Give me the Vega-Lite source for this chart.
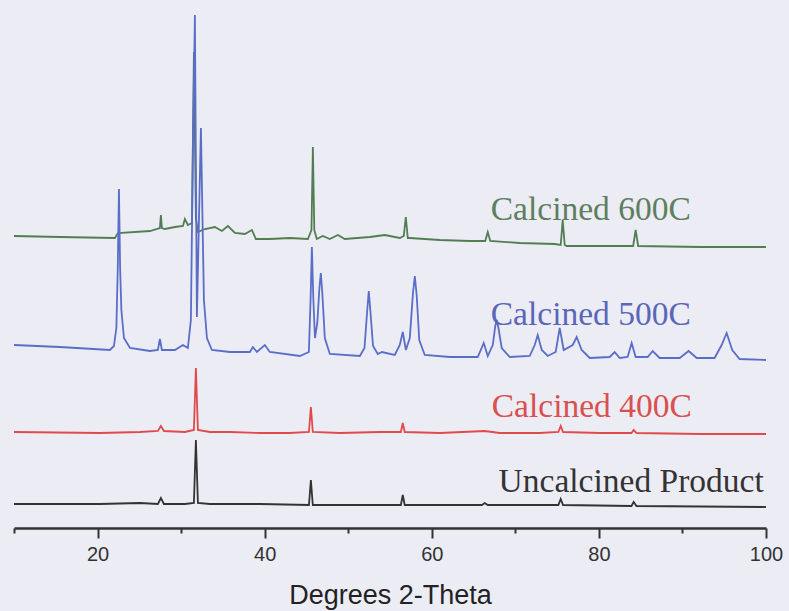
{
  "$schema": "https://vega.github.io/schema/vega-lite/v6.json",
  "width": 752,
  "height": 518,
  "padding": {"left": 10, "top": 10, "right": 10, "bottom": 5},
  "background": "#ececf5",
  "config": {"view": {"stroke": null}},
  "datasets": {
    "traces": [
      {"s": "600C", "x": 10, "y": 292}, {"s": "600C", "x": 15.5, "y": 291}, {"s": "600C", "x": 22.08, "y": 290},
      {"s": "600C", "x": 22.44, "y": 295}, {"s": "600C", "x": 26.27, "y": 297}, {"s": "600C", "x": 27.46, "y": 300},
      {"s": "600C", "x": 27.58, "y": 313}, {"s": "600C", "x": 27.7, "y": 300}, {"s": "600C", "x": 28.06, "y": 299},
      {"s": "600C", "x": 29.26, "y": 301}, {"s": "600C", "x": 30.22, "y": 302}, {"s": "600C", "x": 30.45, "y": 309},
      {"s": "600C", "x": 30.81, "y": 303}, {"s": "600C", "x": 31.3, "y": 305}, {"s": "600C", "x": 31.53, "y": 476},
      {"s": "600C", "x": 31.77, "y": 310}, {"s": "600C", "x": 32.01, "y": 296}, {"s": "600C", "x": 32.85, "y": 299},
      {"s": "600C", "x": 34.04, "y": 301}, {"s": "600C", "x": 34.88, "y": 297}, {"s": "600C", "x": 35.6, "y": 302},
      {"s": "600C", "x": 36.44, "y": 295}, {"s": "600C", "x": 37.63, "y": 294}, {"s": "600C", "x": 38.47, "y": 298},
      {"s": "600C", "x": 38.95, "y": 289}, {"s": "600C", "x": 40.62, "y": 289}, {"s": "600C", "x": 43.01, "y": 290},
      {"s": "600C", "x": 45.17, "y": 289}, {"s": "600C", "x": 45.6, "y": 298}, {"s": "600C", "x": 45.77, "y": 381},
      {"s": "600C", "x": 45.94, "y": 298}, {"s": "600C", "x": 46.24, "y": 289}, {"s": "600C", "x": 46.96, "y": 292},
      {"s": "600C", "x": 47.8, "y": 289}, {"s": "600C", "x": 48.76, "y": 293}, {"s": "600C", "x": 49.59, "y": 289},
      {"s": "600C", "x": 52.58, "y": 291}, {"s": "600C", "x": 54.38, "y": 293}, {"s": "600C", "x": 56.17, "y": 290},
      {"s": "600C", "x": 56.65, "y": 292}, {"s": "600C", "x": 56.89, "y": 311}, {"s": "600C", "x": 57.13, "y": 290},
      {"s": "600C", "x": 57.37, "y": 290}, {"s": "600C", "x": 60.96, "y": 288}, {"s": "600C", "x": 64.55, "y": 287},
      {"s": "600C", "x": 66.4, "y": 287}, {"s": "600C", "x": 66.7, "y": 296}, {"s": "600C", "x": 67.0, "y": 287},
      {"s": "600C", "x": 70.53, "y": 285}, {"s": "600C", "x": 74.71, "y": 284}, {"s": "600C", "x": 75.43, "y": 283},
      {"s": "600C", "x": 75.67, "y": 308}, {"s": "600C", "x": 75.91, "y": 283}, {"s": "600C", "x": 76.15, "y": 282},
      {"s": "600C", "x": 80.1, "y": 282}, {"s": "600C", "x": 84.1, "y": 282}, {"s": "600C", "x": 84.4, "y": 298},
      {"s": "600C", "x": 84.7, "y": 282}, {"s": "600C", "x": 92.06, "y": 281}, {"s": "600C", "x": 100, "y": 281},

      {"s": "500C", "x": 10, "y": 183}, {"s": "500C", "x": 15.5, "y": 181}, {"s": "500C", "x": 21.48, "y": 178},
      {"s": "500C", "x": 21.96, "y": 182}, {"s": "500C", "x": 22.25, "y": 200}, {"s": "500C", "x": 22.42, "y": 260},
      {"s": "500C", "x": 22.56, "y": 339}, {"s": "500C", "x": 22.7, "y": 260}, {"s": "500C", "x": 22.85, "y": 218},
      {"s": "500C", "x": 23.16, "y": 190}, {"s": "500C", "x": 23.88, "y": 180},
      {"s": "500C", "x": 26.27, "y": 177}, {"s": "500C", "x": 27.22, "y": 178}, {"s": "500C", "x": 27.46, "y": 189},
      {"s": "500C", "x": 27.7, "y": 178}, {"s": "500C", "x": 29.26, "y": 178}, {"s": "500C", "x": 30.22, "y": 183},
      {"s": "500C", "x": 30.81, "y": 180}, {"s": "500C", "x": 31.17, "y": 208}, {"s": "500C", "x": 31.41, "y": 378},
      {"s": "500C", "x": 31.65, "y": 513}, {"s": "500C", "x": 31.89, "y": 211}, {"s": "500C", "x": 32.37, "y": 400},
      {"s": "500C", "x": 32.73, "y": 228}, {"s": "500C", "x": 33.09, "y": 190}, {"s": "500C", "x": 33.68, "y": 178},
      {"s": "500C", "x": 35.84, "y": 176}, {"s": "500C", "x": 38.23, "y": 176}, {"s": "500C", "x": 38.59, "y": 181},
      {"s": "500C", "x": 39.07, "y": 176}, {"s": "500C", "x": 40.02, "y": 183}, {"s": "500C", "x": 40.62, "y": 176},
      {"s": "500C", "x": 44.21, "y": 172}, {"s": "500C", "x": 45.29, "y": 176}, {"s": "500C", "x": 45.5, "y": 230},
      {"s": "500C", "x": 45.65, "y": 281}, {"s": "500C", "x": 45.82, "y": 230}, {"s": "500C", "x": 46.02, "y": 190},
      {"s": "500C", "x": 46.3, "y": 205}, {"s": "500C", "x": 46.55, "y": 240}, {"s": "500C", "x": 46.72, "y": 255},
      {"s": "500C", "x": 46.9, "y": 235}, {"s": "500C", "x": 47.2, "y": 190}, {"s": "500C", "x": 47.8, "y": 174},
      {"s": "500C", "x": 51.39, "y": 172}, {"s": "500C", "x": 51.95, "y": 180}, {"s": "500C", "x": 52.25, "y": 215},
      {"s": "500C", "x": 52.46, "y": 237}, {"s": "500C", "x": 52.67, "y": 215}, {"s": "500C", "x": 52.97, "y": 182},
      {"s": "500C", "x": 53.54, "y": 174}, {"s": "500C", "x": 54.02, "y": 176}, {"s": "500C", "x": 55.57, "y": 173},
      {"s": "500C", "x": 56.17, "y": 183}, {"s": "500C", "x": 56.53, "y": 196}, {"s": "500C", "x": 56.9, "y": 178},
      {"s": "500C", "x": 57.37, "y": 190}, {"s": "500C", "x": 57.75, "y": 235}, {"s": "500C", "x": 57.97, "y": 252},
      {"s": "500C", "x": 58.2, "y": 232}, {"s": "500C", "x": 58.5, "y": 188},
      {"s": "500C", "x": 59.16, "y": 173}, {"s": "500C", "x": 62.15, "y": 171}, {"s": "500C", "x": 65.5, "y": 171},
      {"s": "500C", "x": 66.22, "y": 185}, {"s": "500C", "x": 66.7, "y": 172}, {"s": "500C", "x": 67.3, "y": 183},
      {"s": "500C", "x": 67.6, "y": 202}, {"s": "500C", "x": 67.78, "y": 208}, {"s": "500C", "x": 67.98, "y": 200},
      {"s": "500C", "x": 68.37, "y": 180}, {"s": "500C", "x": 69.33, "y": 171},
      {"s": "500C", "x": 71.72, "y": 172}, {"s": "500C", "x": 72.32, "y": 183}, {"s": "500C", "x": 72.68, "y": 193},
      {"s": "500C", "x": 73.16, "y": 178}, {"s": "500C", "x": 73.88, "y": 172}, {"s": "500C", "x": 74.83, "y": 176},
      {"s": "500C", "x": 75.31, "y": 200}, {"s": "500C", "x": 75.79, "y": 178}, {"s": "500C", "x": 76.87, "y": 183},
      {"s": "500C", "x": 77.34, "y": 191}, {"s": "500C", "x": 77.94, "y": 178}, {"s": "500C", "x": 78.9, "y": 170},
      {"s": "500C", "x": 81.29, "y": 171}, {"s": "500C", "x": 81.89, "y": 176}, {"s": "500C", "x": 82.49, "y": 170},
      {"s": "500C", "x": 83.44, "y": 171}, {"s": "500C", "x": 83.92, "y": 185}, {"s": "500C", "x": 84.4, "y": 171},
      {"s": "500C", "x": 85.84, "y": 171}, {"s": "500C", "x": 86.44, "y": 177}, {"s": "500C", "x": 87.27, "y": 170},
      {"s": "500C", "x": 89.67, "y": 170}, {"s": "500C", "x": 90.74, "y": 177}, {"s": "500C", "x": 91.7, "y": 170},
      {"s": "500C", "x": 93.85, "y": 170}, {"s": "500C", "x": 94.69, "y": 183}, {"s": "500C", "x": 95.29, "y": 195},
      {"s": "500C", "x": 95.96, "y": 178}, {"s": "500C", "x": 96.84, "y": 169}, {"s": "500C", "x": 100, "y": 168},

      {"s": "400C", "x": 10, "y": 96}, {"s": "400C", "x": 20.29, "y": 95}, {"s": "400C", "x": 25.07, "y": 96},
      {"s": "400C", "x": 27.22, "y": 97}, {"s": "400C", "x": 27.58, "y": 102}, {"s": "400C", "x": 27.94, "y": 97},
      {"s": "400C", "x": 30.45, "y": 96}, {"s": "400C", "x": 31.53, "y": 98}, {"s": "400C", "x": 31.77, "y": 160},
      {"s": "400C", "x": 32.01, "y": 98}, {"s": "400C", "x": 33.44, "y": 96}, {"s": "400C", "x": 35.84, "y": 96},
      {"s": "400C", "x": 39.43, "y": 95}, {"s": "400C", "x": 43.01, "y": 95}, {"s": "400C", "x": 45.3, "y": 96},
      {"s": "400C", "x": 45.53, "y": 121}, {"s": "400C", "x": 45.76, "y": 96}, {"s": "400C", "x": 49.0, "y": 95},
      {"s": "400C", "x": 53.78, "y": 96}, {"s": "400C", "x": 56.3, "y": 96}, {"s": "400C", "x": 56.53, "y": 105},
      {"s": "400C", "x": 56.76, "y": 96}, {"s": "400C", "x": 60.96, "y": 95}, {"s": "400C", "x": 66.34, "y": 97},
      {"s": "400C", "x": 68.13, "y": 95}, {"s": "400C", "x": 72.92, "y": 95}, {"s": "400C", "x": 75.15, "y": 96},
      {"s": "400C", "x": 75.43, "y": 102}, {"s": "400C", "x": 75.71, "y": 96}, {"s": "400C", "x": 80.1, "y": 95},
      {"s": "400C", "x": 83.9, "y": 95}, {"s": "400C", "x": 84.16, "y": 98}, {"s": "400C", "x": 84.5, "y": 95}, {"s": "400C", "x": 92.06, "y": 94},
      {"s": "400C", "x": 100, "y": 94},

      {"s": "Uncalcined", "x": 10, "y": 24}, {"s": "Uncalcined", "x": 20.29, "y": 24}, {"s": "Uncalcined", "x": 25.07, "y": 25},
      {"s": "Uncalcined", "x": 27.22, "y": 24}, {"s": "Uncalcined", "x": 27.58, "y": 30}, {"s": "Uncalcined", "x": 27.94, "y": 24},
      {"s": "Uncalcined", "x": 30.45, "y": 24}, {"s": "Uncalcined", "x": 31.53, "y": 25}, {"s": "Uncalcined", "x": 31.77, "y": 88},
      {"s": "Uncalcined", "x": 32.01, "y": 25}, {"s": "Uncalcined", "x": 33.44, "y": 24}, {"s": "Uncalcined", "x": 39.43, "y": 24},
      {"s": "Uncalcined", "x": 45.3, "y": 23}, {"s": "Uncalcined", "x": 45.53, "y": 48}, {"s": "Uncalcined", "x": 45.76, "y": 23},
      {"s": "Uncalcined", "x": 49.0, "y": 23}, {"s": "Uncalcined", "x": 56.3, "y": 23}, {"s": "Uncalcined", "x": 56.53, "y": 33},
      {"s": "Uncalcined", "x": 56.76, "y": 23}, {"s": "Uncalcined", "x": 66.0, "y": 23}, {"s": "Uncalcined", "x": 66.34, "y": 25}, {"s": "Uncalcined", "x": 66.7, "y": 23},
      {"s": "Uncalcined", "x": 75.15, "y": 23}, {"s": "Uncalcined", "x": 75.43, "y": 29}, {"s": "Uncalcined", "x": 75.71, "y": 23},
      {"s": "Uncalcined", "x": 83.9, "y": 22}, {"s": "Uncalcined", "x": 84.16, "y": 26}, {"s": "Uncalcined", "x": 84.5, "y": 22}, {"s": "Uncalcined", "x": 100, "y": 21}
    ],
    "labels": [
      {"s": "600C", "x": 67.06, "y": 308, "t": "Calcined 600C"},
      {"s": "500C", "x": 67.06, "y": 203, "t": "Calcined 500C"},
      {"s": "400C", "x": 67.18, "y": 111, "t": "Calcined 400C"},
      {"s": "Uncalcined", "x": 68.0, "y": 36, "t": "Uncalcined Product"}
    ]
  },
  "layer": [
    {
      "data": {"name": "traces"},
      "mark": {"type": "line", "strokeWidth": 1.8},
      "encoding": {
        "x": {
          "field": "x", "type": "quantitative",
          "scale": {"domain": [10, 100], "nice": false, "zero": false},
          "axis": {
            "values": [10, 20, 30, 40, 50, 60, 70, 80, 90, 100],
            "labelExpr": "datum.value % 20 === 0 ? datum.label : ''",
            "tickSize": {"condition": {"test": "datum.value % 20 === 0", "value": 10}, "value": 5},
            "grid": false,
            "labelFlush": false,
            "labelOverlap": false,
            "domainColor": "#333333",
            "domainWidth": 2.5,
            "tickColor": "#333333",
            "tickWidth": 2,
            "labelFont": "Liberation Sans",
            "labelFontSize": 20,
            "labelColor": "#333333",
            "labelPadding": 6,
            "title": "Degrees 2-Theta",
            "titleFont": "Liberation Sans",
            "titleFontSize": 27,
            "titleFontWeight": "normal",
            "titleColor": "#222222",
            "titlePadding": 18
          }
        },
        "y": {"field": "y", "type": "quantitative", "scale": {"domain": [0, 518], "nice": false}, "axis": null},
        "color": {
          "field": "s", "type": "nominal",
          "scale": {"domain": ["600C", "500C", "400C", "Uncalcined"], "range": ["#527d52", "#5a6ec8", "#e04a4a", "#333333"]},
          "legend": null
        }
      }
    },
    {
      "data": {"name": "labels"},
      "mark": {"type": "text", "align": "left", "baseline": "alphabetic", "font": "Liberation Serif", "fontSize": 33.5},
      "encoding": {
        "x": {"field": "x", "type": "quantitative"},
        "y": {"field": "y", "type": "quantitative"},
        "text": {"field": "t"},
        "color": {
          "field": "s", "type": "nominal",
          "scale": {"domain": ["600C", "500C", "400C", "Uncalcined"], "range": ["#5e7f5e", "#5a66b8", "#d9504e", "#333333"]},
          "legend": null
        }
      }
    }
  ],
  "resolve": {"scale": {"color": "independent"}}
}
